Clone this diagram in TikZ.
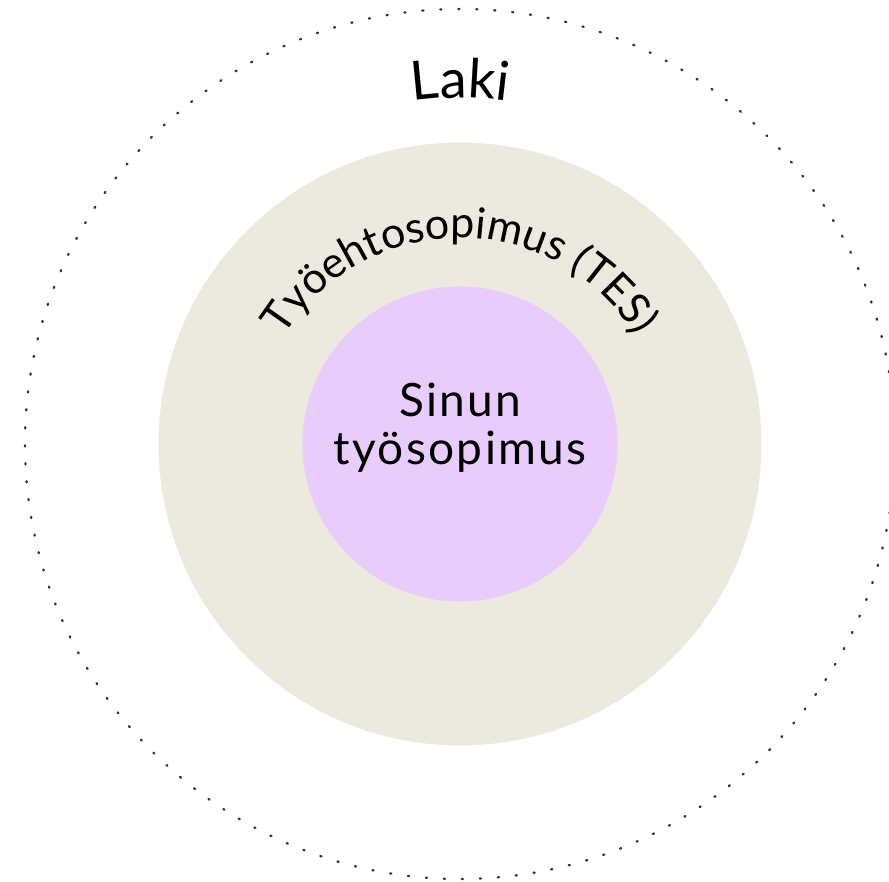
\documentclass[tikz,border=0pt]{standalone}
\usepackage{fontspec}
\setmainfont{Lato}
\usetikzlibrary{decorations.text,calc}
\definecolor{tesbeige}{RGB}{236,234,222}
\definecolor{ownlilac}{RGB}{231,204,252}
\newfontfamily\widefont[LetterSpace=5]{Lato}
\tikzset{
  dotring/.style={draw=black!80, line width=2.3pt, line cap=round, dash pattern=on 1.2pt off 16.8pt},
  arctext/.style={decorate, decoration={text along path, text={#1}, text align=center}}
}
\begin{document}
\begin{tikzpicture}[x=1pt,y=1pt]
\useasboundingbox (0,0) rectangle (889,881);
\coordinate (c) at (460,437);
\fill[tesbeige] (c) circle[radius=301.5];
\fill[ownlilac] (c) circle[radius=157.5];
\draw[dotring] (c) circle[radius=435];
\path[arctext={|\fontsize{43}{48}\selectfont|Työehtosopimus (TES)}] ($(c)+(178:206)$) arc[start angle=178, end angle=2, radius=206];
\path[arctext={|\fontsize{54}{60}\selectfont|Laki}] ($(c)+(150:346)$) arc[start angle=150, end angle=30, radius=346];
\node[font=\widefont\fontsize{46}{48}\selectfont, anchor=base, inner sep=0pt] (sinun) at (460,464) {Sinun};
\node[font=\widefont\fontsize{46}{48}\selectfont, anchor=base, inner sep=0pt] (tyo) at (460,416) {työsopimus};
\end{tikzpicture}
\end{document}
